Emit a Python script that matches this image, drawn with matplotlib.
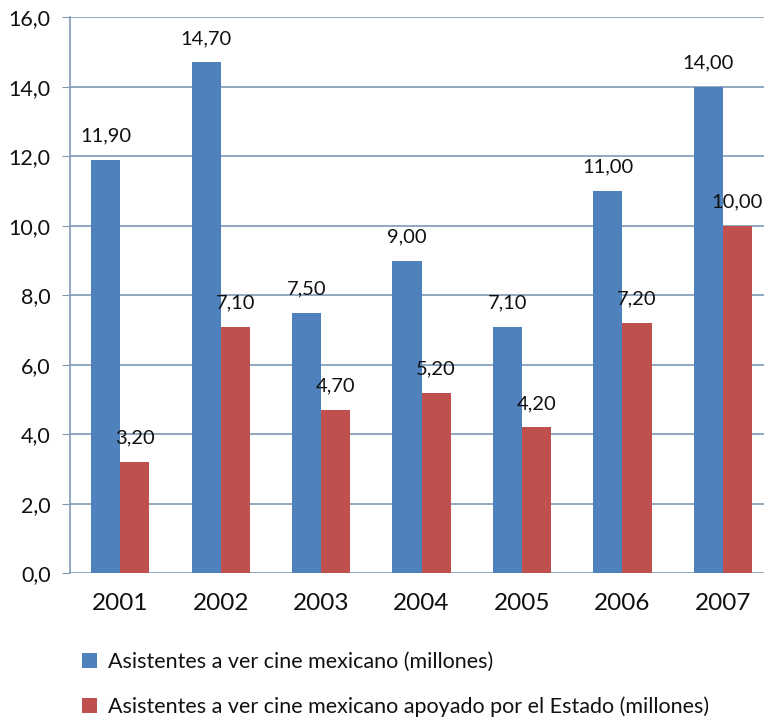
import matplotlib.pyplot as plt
import numpy as np

years = ["2001", "2002", "2003", "2004", "2005", "2006", "2007"]
total = [11.90, 14.70, 7.50, 9.00, 7.10, 11.00, 14.00]
apoyado = [3.20, 7.10, 4.70, 5.20, 4.20, 7.20, 10.00]
series_names = ["Asistentes a ver cine mexicano (millones)",
                "Asistentes a ver cine mexicano apoyado por el Estado (millones)"]
yticks = [0, 2, 4, 6, 8, 10, 12, 14, 16]

plt.rcParams['font.family'] = ['Lato', 'DejaVu Sans']

fig = plt.figure(figsize=(7.64, 7.21), dpi=100)
ax = fig.add_axes([0.0916, 0.205, 0.9084, 0.771])

x = np.arange(len(years))
w = 0.29
b1 = ax.bar(x - w / 2, total, w, color="#4F81BD", label=series_names[0], zorder=3)
b2 = ax.bar(x + w / 2, apoyado, w, color="#C0504D", label=series_names[1], zorder=3)

def fmt(v):
    return ("%.2f" % v).replace(".", ",")

for rect, v in zip(list(b1) + list(b2), total + apoyado):
    ax.annotate(fmt(v), (rect.get_x() + rect.get_width() / 2, v), xytext=(0, 11),
                textcoords="offset points", ha="center", va="bottom", fontsize=14.5,
                color="#111111")

ax.set_ylim(0, 16)
ax.set_xlim(-0.5, 6.41)
ax.set_yticks(yticks)
ax.set_yticklabels([("%.1f" % t).replace(".", ",") for t in yticks], fontsize=15.5, color="#111111")
ax.set_xticks(x)
ax.set_xticklabels(years, fontsize=17.5, color="#111111")
ax.tick_params(axis="x", length=0, pad=14)
ax.tick_params(axis="y", length=6, color="#7f9ab5", pad=8)

ax.grid(axis="y", color="#7f9ab5", linewidth=1.2, zorder=0)
for s in ["top", "right", "bottom"]:
    ax.spines[s].set_visible(False)
ax.spines["left"].set_color("#7f9ab5")
ax.spines["left"].set_linewidth(1.2)

leg = fig.legend(loc="lower left", bbox_to_anchor=(0.082, -0.022), frameon=False, fontsize=15.5,
                 handlelength=0.7, handleheight=0.7, handletextpad=0.5, labelspacing=1.15)
for t in leg.get_texts():
    t.set_color("#111111")

fig.savefig("out.png", dpi=100)
